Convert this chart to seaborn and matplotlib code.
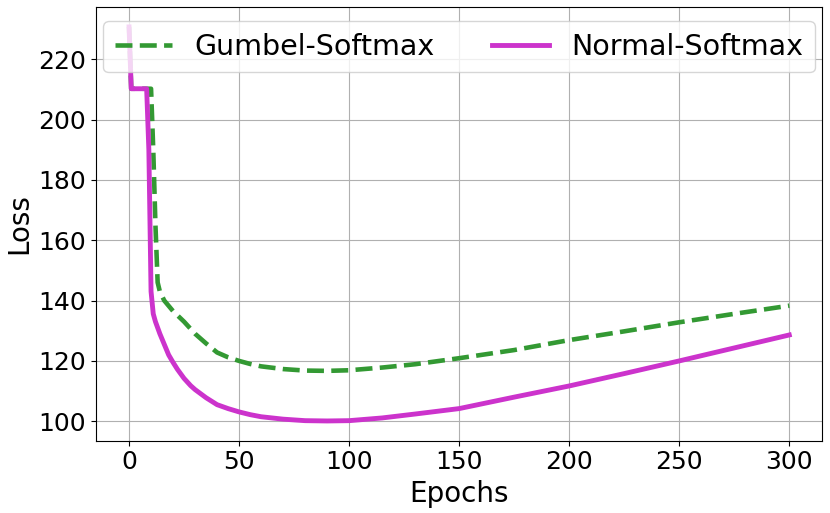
import matplotlib
matplotlib.use("Agg")
import matplotlib.pyplot as plt
import seaborn as sns
import pandas as pd


# Loss curves
normal_epochs = [0, 1, 8, 9, 10, 11, 12, 13, 14, 16, 18, 20, 22, 25, 28, 30, 35,
                 40, 45, 50, 55, 60, 70, 80, 90, 100, 115, 130, 150, 175, 200,
                 225, 250, 275, 300]
normal_loss = [230.7, 210.2, 210.2, 190, 143, 135.6, 133, 131, 129, 125.5, 122,
               119.5, 117.2, 114.2, 111.8, 110.5, 107.8, 105.5, 104.2, 103.1,
               102.2, 101.5, 100.7, 100.2, 100.1, 100.2, 101.1, 102.4, 104.2,
               108, 111.7, 115.8, 120, 124.3, 128.6]

gumbel_epochs = [0, 1, 10, 11, 12, 13, 14, 16, 20, 25, 30, 35, 40, 45, 50, 55,
                 60, 70, 80, 90, 100, 115, 130, 150, 175, 200, 225, 250, 275, 300]
gumbel_loss = [230.7, 210.2, 210.2, 190, 165, 146, 143, 140, 136.5, 133, 129,
               125.8, 122.8, 121.2, 120, 119, 118.2, 117.3, 116.8, 116.7, 116.9,
               117.8, 118.9, 120.9, 123.6, 126.9, 129.8, 132.8, 135.6, 138.3]

normal_df = pd.DataFrame({"Epochs": normal_epochs, "Loss": normal_loss})
gumbel_df = pd.DataFrame({"Epochs": gumbel_epochs, "Loss": gumbel_loss})


fig = plt.figure(figsize=(8.3, 5.13), dpi=100)
ax = fig.add_axes([0.1157, 0.141, 0.875, 0.845])

sns.lineplot(
    data=gumbel_df,
    x="Epochs",
    y="Loss",
    color="#339933",
    linestyle="--",
    linewidth=3.3,
    label="Gumbel-Softmax",
    ax=ax
)

sns.lineplot(
    data=normal_df,
    x="Epochs",
    y="Loss",
    color="#cc33cc",
    linewidth=3.5,
    label="Normal-Softmax",
    ax=ax
)

ax.grid(True, color="#b0b0b0", linewidth=0.8)
ax.set_axisbelow(True)

ax.set_xticks([0, 50, 100, 150, 200, 250, 300])
ax.set_yticks([100, 120, 140, 160, 180, 200, 220])
ax.tick_params(labelsize=18)

ax.set_xlabel("Epochs", fontsize=20)
ax.set_ylabel("Loss", fontsize=20)

ax.legend(
    loc="upper center",
    ncol=2,
    fontsize=20.5,
    handlelength=2.0,
    columnspacing=2.0,
    borderaxespad=0.5
)

fig.savefig("out.png", dpi=100)
plt.close(fig)
